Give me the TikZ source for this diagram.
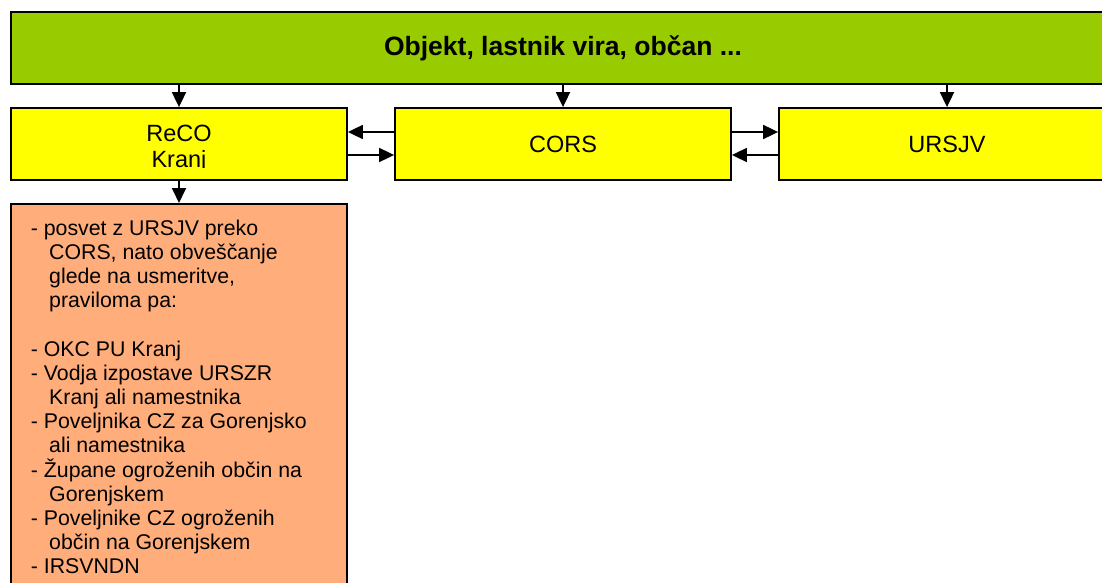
\documentclass[tikz,border=0pt]{standalone}
\usepackage{fontspec}
\setmainfont{Liberation Sans}
\usetikzlibrary{arrows.meta}
\definecolor{tgreen}{HTML}{99CC00}
\definecolor{tyellow}{HTML}{FFFF00}
\definecolor{torange}{HTML}{FFAD7B}
\newcommand{\ytext}{\fontsize{23.5}{27}\selectfont}
\newcommand{\otext}{\fontsize{21.3}{24.2}\selectfont}
\begin{document}
\begin{tikzpicture}[x=1pt,y=-1pt,
  box/.style={draw=black, line width=1.8pt, rectangle, inner sep=0pt,
              minimum width=336pt, minimum height=72pt},
  arr/.style={-{Triangle[length=15pt,width=14pt]}, line width=1.8pt}]
\useasboundingbox (0,0) rectangle (1102,583);
\clip (0,0) rectangle (1102,583);
% boxes
\node[box, fill=tgreen, minimum width=1104pt,
      font=\fontsize{26.5}{30}\selectfont\bfseries] (obj) at (563,48) {Objekt, lastnik vira, občan ...};
\node[box, fill=tyellow] (reco) at (179,144) {};
\node[box, fill=tyellow, font=\ytext] (cors) at (563,144) {CORS};
\node[box, fill=tyellow, font=\ytext] (ursjv) at (947,144) {URSJV};
\node[box, fill=torange, minimum height=420pt, anchor=north] (info) at (179,203) {};
% ReCO text (second line clipped at its baseline, as in the reference)
\begin{scope}
\clip (11,108) rectangle (347,167.6);
\node[font=\ytext, anchor=base, inner sep=0pt] (recot1) at (179,142) {ReCO};
\node[font=\ytext, anchor=base, inner sep=0pt] (recot2) at (179,167) {Kranj};
\end{scope}
% list text
\node[anchor=base west, inner sep=0pt, font=\otext] (infot) at (30.7,235) {\parbox[t]{310pt}{\raggedright
- posvet z URSJV preko\\
\hspace*{18.3pt}CORS, nato obveščanje\\
\hspace*{18.3pt}glede na usmeritve,\\
\hspace*{18.3pt}praviloma pa:\\
\mbox{}\\
- OKC PU Kranj\\
- Vodja izpostave URSZR\\
\hspace*{18.3pt}Kranj ali namestnika\\
- Poveljnika CZ za Gorenjsko\\
\hspace*{18.3pt}ali namestnika\\
- Župane ogroženih občin na\\
\hspace*{18.3pt}Gorenjskem\\
- Poveljnike CZ ogroženih\\
\hspace*{18.3pt}občin na Gorenjskem\\
- IRSVNDN}};
% connectors
\draw[arr] (obj.south -| reco.north) -- (reco.north);
\draw[arr] (obj.south -| cors.north) -- (cors.north);
\draw[arr] (obj.south -| ursjv.north) -- (ursjv.north);
\draw[arr] (reco.south) -- (info.north);
\draw[arr] ([yshift=12pt]cors.west) -- ([yshift=12pt]reco.east);
\draw[arr] ([yshift=-11pt]reco.east) -- ([yshift=-11pt]cors.west);
\draw[arr] ([yshift=12pt]cors.east) -- ([yshift=12pt]ursjv.west);
\draw[arr] ([yshift=-11pt]ursjv.west) -- ([yshift=-11pt]cors.east);
\end{tikzpicture}
\end{document}
